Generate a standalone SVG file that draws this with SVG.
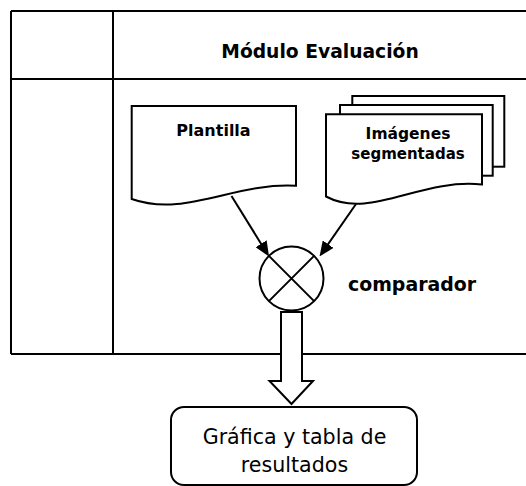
<svg xmlns="http://www.w3.org/2000/svg" width="526" height="486" viewBox="0 0 526 486">
<style>
.ln{fill:none;stroke:#000;stroke-width:2}
.shape{fill:#fff;stroke:#000;stroke-width:2}
.b{font-family:"DejaVu Sans",Verdana,sans-serif;font-weight:bold;fill:#000}
.r{font-family:"DejaVu Sans",Verdana,sans-serif;fill:#000}
</style>
<defs>
<marker id="ah" markerUnits="userSpaceOnUse" markerWidth="15" markerHeight="13" refX="7" refY="6.5" orient="auto">
<path d="M0,0 L15,6.5 L0,13 Z" fill="#000"/>
</marker>
</defs>
<rect width="526" height="486" fill="#fff"/>
<g id="pool">
<path class="ln" d="M11,11 H530 M11,79 H530 M11,354 H530 M11,11 V354 M113,11 V354"/>
<text class="b" x="320" y="57.5" font-size="18.7" text-anchor="middle">Módulo Evaluación</text>
</g>
<g id="plantilla">
<path class="shape" d="M131.7,106 H296 V185.7 C235,182 185,218 131.7,199 Z"/>
<text class="b" x="213.5" y="135.7" font-size="16" text-anchor="middle">Plantilla</text>
</g>
<g id="imagenes">
<rect class="shape" x="352.3" y="96" width="152" height="70.7"/>
<rect class="shape" x="340" y="105" width="152.7" height="70.7"/>
<path class="shape" d="M326,114.3 H482 V184.5 C420,178 370,220 326,196.5 Z"/>
<text class="b" x="408" y="139.3" font-size="15.5" text-anchor="middle">Imágenes</text>
<text class="b" x="408" y="159" font-size="15" text-anchor="middle">segmentadas</text>
</g>
<g id="comparador">
<circle class="shape" cx="291.5" cy="278.5" r="32"/>
<path class="ln" d="M268.9,255.9 L314.1,301.1 M314.1,255.9 L268.9,301.1"/>
<text class="b" x="348" y="290.7" font-size="18.9">comparador</text>
</g>
<g id="resultados">
<rect class="shape" x="171" y="407" width="246" height="78" rx="13" ry="13"/>
<text class="r" x="294.5" y="444" font-size="20.6" text-anchor="middle">Gráfica y tabla de</text>
<text class="r" x="294.5" y="472" font-size="20.6" text-anchor="middle">resultados</text>
</g>
<g id="connectors">
<line class="ln" x1="231.5" y1="196" x2="264.8" y2="249.7" marker-end="url(#ah)"/>
<line class="ln" x1="356" y1="204" x2="324.1" y2="249.9" marker-end="url(#ah)"/>
<path class="shape" d="M281,312 H302 V381 H313 L291.5,404 L269.5,381 H281 Z"/>
</g>
</svg>
